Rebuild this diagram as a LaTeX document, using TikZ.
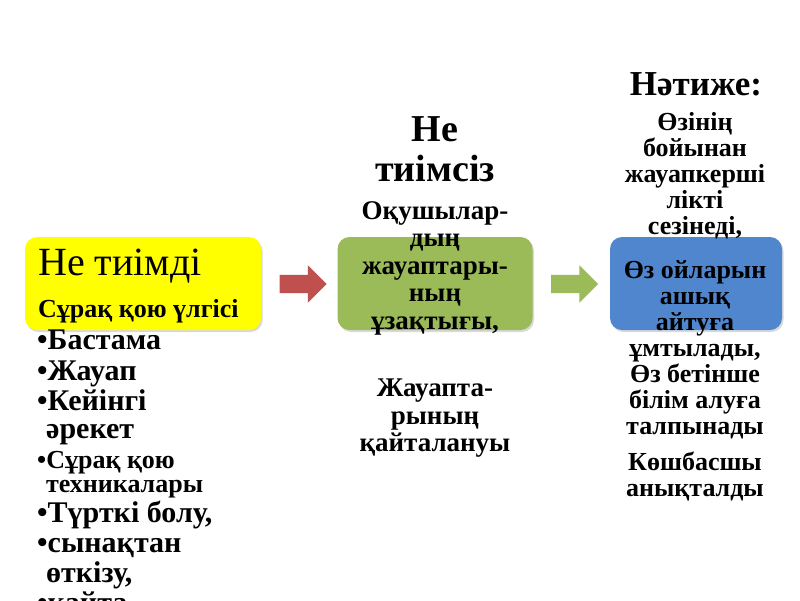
\documentclass[tikz,border=0pt]{standalone}
\usepackage{fontspec}
\setmainfont{Liberation Serif}
\usetikzlibrary{shapes.arrows,shadows}

\definecolor{stageyellow}{HTML}{FFFF00}
\definecolor{stagegreen}{HTML}{9BBB59}
\definecolor{stageblue}{HTML}{4F86CD}
\definecolor{arrowred}{HTML}{C0504D}

\begin{document}
\begin{tikzpicture}[x=1pt,y=-1pt,
    stage/.style={rounded corners=12pt,minimum height=93pt,drop shadow={opacity=0.3,shadow xshift=1.5pt,shadow yshift=-2pt}},
    blockarrow/.style={single arrow,minimum height=47pt,inner sep=9pt,single arrow head extend=9.5pt},
    item/.style={anchor=base west,inner sep=0pt,font=\bfseries\fontsize{30}{30}\selectfont},
    body/.style={anchor=north,align=center,inner sep=0pt,font=\bfseries\fontsize{26}{26}\selectfont}]
  \useasboundingbox (0,0) rectangle (800,600);
  % three stages
  \node[stage,fill=stageyellow,minimum width=236pt] (good) at (143,283.5) {};
  \node[stage,fill=stagegreen,minimum width=195pt] (bad) at (435,283.5) {};
  \node[stage,fill=stageblue,minimum width=172pt] (result) at (696,283.5) {};
  \node[blockarrow,fill=arrowred] (goodtobad) at (298.5,284) {};
  \node[blockarrow,fill=stagegreen] (badtoresult) at (570,284) {};
  % left column
  \node[anchor=base west,inner sep=0pt,font=\fontsize{40}{40}\selectfont] (goodtitle) at (38,275) {Не тиімді};
  \node[anchor=base west,inner sep=0pt,font=\bfseries\fontsize{26}{26}\selectfont] (goodsub) at (38,317) {Сұрақ қою үлгісі};
  \node[item] (b1) at (37,349) {•Бастама};
  \node[item] (b2) at (37,380) {•Жауап};
  \node[item] (b3) at (37,410) {•Кейінгі};
  \node[item] (b3a) at (46,438) {әрекет};
  \node[item,font=\bfseries\fontsize{26}{26}\selectfont] (b4) at (37,468) {•Сұрақ қою};
  \node[item,font=\bfseries\fontsize{26}{26}\selectfont] (b4a) at (46,492) {техникалары};
  \node[item] (b5) at (37,522) {•Түрткі болу,};
  \node[item] (b6) at (37,552) {•сынақтан};
  \node[item] (b6a) at (46,582) {өткізу,};
  \node[item] (b7) at (37,612) {•қайта};
  % middle column
  \node[body,font=\bfseries\fontsize{38}{40}\selectfont] (badtitle) at (435,116) {Не\\тиімсіз};
  \node[body,font=\bfseries\fontsize{27}{27.5}\selectfont] (badtext) at (435,201) {Оқушылар-\\дың\\жауаптары-\\ның\\ұзақтығы,};
  \node[body,font=\bfseries\fontsize{27}{27.5}\selectfont] (badmore) at (435,379) {Жауапта-\\рының\\қайталануы};
  % right column
  \node[anchor=base,inner sep=0pt,font=\bfseries\fontsize{35}{35}\selectfont] (resulttitle) at (696,95) {Нәтиже:};
  \node[body] (resulta) at (695,112) {Өзінің\\бойынан\\жауапкерші\\лікті\\сезінеді,};
  \node[body] (resultb) at (695,260) {Өз ойларын\\ашық\\айтуға\\ұмтылады,\\Өз бетінше\\білім алуға\\талпынады};
  \node[body] (resultc) at (695,452) {Көшбасшы\\анықталды};
\end{tikzpicture}
\end{document}
